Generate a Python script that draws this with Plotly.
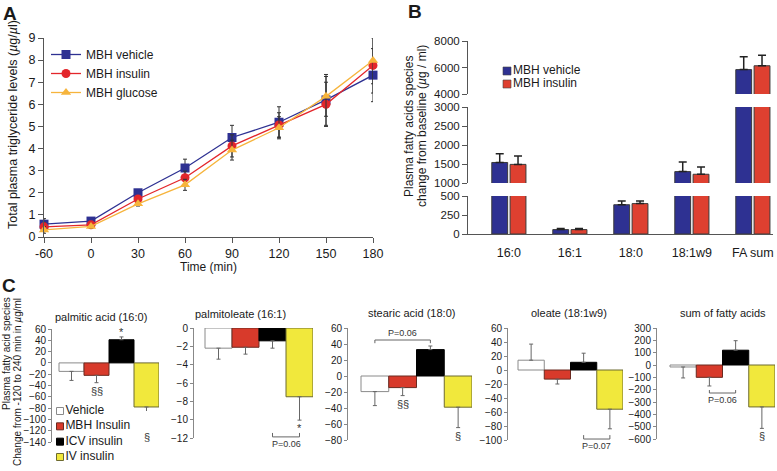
import plotly.graph_objects as go

W, H = 777, 471
FONT = "Liberation Sans, Arial, Helvetica, sans-serif"
TXT = "#1a1a1a"
AXC = "#555555"

# ---------------- Panel A data ----------------
time_labels = ["-60", "0", "30", "60", "90", "120", "150", "180"]
a_names = ["MBH vehicle", "MBH insulin", "MBH glucose"]
a_vehicle = [0.58, 0.72, 2.00, 3.12, 4.50, 5.19, 6.20, 7.32]
a_vehicle_err = [0.25, 0.10, 0.15, 0.40, 0.55, 0.70, 1.15, 1.20]
a_insulin = [0.46, 0.55, 1.72, 2.68, 4.12, 5.07, 6.00, 7.76]
a_insulin_err = [0.20, 0.10, 0.15, 0.30, 0.50, 0.55, 1.00, 1.25]
a_glucose = [0.32, 0.48, 1.50, 2.36, 3.93, 4.94, 6.36, 7.98]
a_glucose_err = [0.15, 0.08, 0.10, 0.25, 0.45, 0.50, 0.90, 1.05]

# ---------------- Panel B data ----------------
b_species = ["16:0", "16:1", "18:0", "18:1w9", "FA sum"]
b_names = ["MBH vehicle", "MBH insulin"]
b_vehicle = [1540, 58, 385, 1300, 5840]
b_vehicle_err = [230, 13, 50, 250, 975]
b_insulin = [1490, 58, 400, 1230, 6130]
b_insulin_err = [220, 13, 35, 190, 800]
b_seg_ticks = [[0, 250, 500], [1000, 1500, 2000, 2500, 3000], [4000, 6000, 8000]]

# ---------------- Panel C data ----------------
c_groups = ["Vehicle", "MBH Insulin", "ICV insulin", "IV insulin"]
c_titles = ["palmitic acid (16:0)", "palmitoleate (16:1)", "stearic acid (18:0)",
            "oleate (18:1w9)", "sum of fatty acids"]
c_palmitic = [-15, -22, 41, -78]
c_palmitic_err = [16, 13, 5, 39]
c_palmitoleate = [-2.2, -2.1, -1.4, -7.5]
c_palmitoleate_err = [1.2, 0.75, 0.8, 2.55]
c_stearic = [-19.5, -14.5, 33, -39]
c_stearic_err = [17.5, 10, 4.5, 25.5]
c_oleate = [14, -13, 11, -56]
c_oleate_err = [23, 7, 13, 28]
c_sum = [-16, -100, 120, -340]
c_sum_err = [89, 70, 77, 174]
c_yranges = [[-140, 60], [-12, 0], [-80, 60], [-100, 60], [-600, 300]]
c_dticks = [20, 2, 20, 20, 100]
# significance marks: (subplot, group index, symbol)
c_marks = [(0, 2, "*"), (0, 1, "§§"), (0, 3, "§"), (1, 3, "*"),
           (2, 1, "§§"), (2, 3, "§"), (4, 3, "§")]
# P-value brackets: (subplot, from group, to group, text, bracket level, tick end)
c_brackets = [(1, 2, 3, "P=0.06", -11.88, -11.45),
              (2, 0, 2, "P=0.06", 45, 41),
              (3, 2, 3, "P=0.07", -98.6, -93),
              (4, 1, 2, "P=0.06", -227, -203)]

c_values = [c_palmitic, c_palmitoleate, c_stearic, c_oleate, c_sum]
c_errors = [c_palmitic_err, c_palmitoleate_err, c_stearic_err, c_oleate_err, c_sum_err]


def xd(l, r):
    return [l / W, r / W]


def yd(top, bottom):
    return [1 - bottom / H, 1 - top / H]


fig = go.Figure()
layout = {}

# ================= Panel A =================
A_COLORS = ["#2E3192", "#E3262B", "#F6B43C"]
A_SYMBOLS = ["square", "circle", "triangle-up"]
xs = list(range(len(time_labels)))
for name, ys, es, col, sym in zip(a_names, [a_vehicle, a_insulin, a_glucose],
                                  [a_vehicle_err, a_insulin_err, a_glucose_err],
                                  A_COLORS, A_SYMBOLS):
    fig.add_trace(go.Scatter(
        x=xs, y=ys, name=name, mode="lines+markers",
        line=dict(color=col, width=1.3),
        marker=dict(symbol=sym, size=9, color=col),
        error_y=dict(type="data", array=es, color="#333333", thickness=1, width=2),
        cliponaxis=False, xaxis="x", yaxis="y", legend="legend"))

layout["xaxis"] = dict(domain=xd(44, 373), range=[0, 7], tickvals=xs, ticktext=time_labels,
                       anchor="y", showline=True, linecolor=AXC, ticks="outside", ticklen=5,
                       tickcolor=AXC, showgrid=False, zeroline=False, automargin=False,
                       tickfont=dict(size=12.5, family=FONT, color=TXT))
layout["yaxis"] = dict(domain=yd(38, 237), range=[0, 9], dtick=1, anchor="x",
                       showline=True, linecolor=AXC, ticks="outside", ticklen=5,
                       tickcolor=AXC, showgrid=False, zeroline=False, automargin=False,
                       tickfont=dict(size=12.5, family=FONT, color=TXT))

# ================= Panel B =================
B_COLORS = ["#2E3192", "#DE4030"]
b_x = list(range(len(b_species)))
seg_axes = ["y2", "y3", "y4"]
for seg_i, ya in enumerate(seg_axes):
    for gi, (name, vals, errs, col) in enumerate(zip(b_names, [b_vehicle, b_insulin],
                                                    [b_vehicle_err, b_insulin_err], B_COLORS)):
        fig.add_trace(go.Bar(
            x=b_x, y=vals, name=name, width=0.26, offset=-0.28 if gi == 0 else 0.02,
            marker=dict(color=col, line=dict(color="#3a3a3a", width=1)),
            error_y=dict(type="data", symmetric=False, array=errs, arrayminus=[0] * len(errs),
                         color="#222222", thickness=1.5, width=4),
            showlegend=False, xaxis="x2", yaxis=ya))

layout["xaxis2"] = dict(domain=xd(468, 773), range=[-0.67, 4.33], tickvals=b_x, ticktext=b_species,
                        anchor="y2", showline=True, linecolor=AXC, ticks="outside", ticklen=7,
                        tickcolor="rgba(0,0,0,0)", showgrid=False, zeroline=False, automargin=False,
                        tickfont=dict(size=12.5, family=FONT, color=TXT))
b_domains = [yd(196, 234), yd(107, 183), yd(41, 94)]
b_ranges = [[0, 500], [1000, 3000], [4000, 8000]]
for i, ya in enumerate(["yaxis2", "yaxis3", "yaxis4"]):
    layout[ya] = dict(domain=b_domains[i], range=b_ranges[i], tickvals=b_seg_ticks[i],
                      anchor="x2", showline=True, linecolor=AXC, ticks="outside", ticklen=5,
                      tickcolor=AXC, showgrid=False, zeroline=False, automargin=False,
                      tickfont=dict(size=11.5, family=FONT, color=TXT))

# legend of panel B (helper axis)
fig.add_trace(go.Scatter(
    x=[0] * len(b_names), y=list(range(len(b_names))), mode="markers+text",
    text=b_names, textposition="middle right",
    textfont=dict(size=12, family=FONT, color=TXT),
    marker=dict(symbol="square", size=8, color=B_COLORS, line=dict(color="#444", width=0.6)),
    cliponaxis=False, showlegend=False, hoverinfo="skip", xaxis="x10", yaxis="y10"))
layout["xaxis10"] = dict(domain=xd(507, 640), range=[0, 1], visible=False, anchor="y10")
layout["yaxis10"] = dict(domain=yd(71, 84), range=[1, 0], visible=False, anchor="x10")

# ================= Panel C =================
C_COLORS = ["#FFFFFF", "#D83A2B", "#000000", "#F1E83C"]
C_LINES = ["#8a8a8a", "#6a2a20", "#000000", "#6d6a30"]
# (axis px, first bar left px, right px, top px, bottom px)
c_geom = [(52, 59, 159, 329, 442), (194, 205, 313, 328, 438), (348, 361, 472, 328, 440),
          (508, 518, 623, 328, 440), (657, 670, 775, 328, 439)]
c_title_y = [317, 314, 313, 313, 313]
c_title_x = [101, 240, 411, 569, 723]

for s in range(5):
    xa = "x%d" % (s + 5)
    ya = "y%d" % (s + 5)
    for g in range(4):
        v = c_values[s][g]
        e = c_errors[s][g]
        fig.add_trace(go.Bar(
            x=[g], y=[v], width=1, name=c_groups[g],
            marker=dict(color=C_COLORS[g], line=dict(color=C_LINES[g], width=1)),
            error_y=dict(type="data", symmetric=False,
                         array=[e if v > 0 else 0], arrayminus=[e if v < 0 else 0],
                         color="#666666", thickness=1, width=2),
            showlegend=False, xaxis=xa, yaxis=ya))
    ax_l, b_l, r, top, bot = c_geom[s]
    bw = (r - b_l) / 4.0
    layout["xaxis%d" % (s + 5)] = dict(domain=xd(ax_l, r), range=[-0.5 - (b_l - ax_l) / bw, 3.5],
                                       visible=False, anchor=ya)
    layout["yaxis%d" % (s + 5)] = dict(domain=yd(top, bot), range=c_yranges[s], dtick=c_dticks[s],
                                       anchor=xa, showline=True, linecolor="#888888",
                                       ticks="outside", ticklen=3, tickcolor="#888888",
                                       showgrid=False, zeroline=False, automargin=False,
                                       tickfont=dict(size=10, family=FONT, color=TXT))

# legend of panel C (helper axis)
fig.add_trace(go.Scatter(
    x=[0] * len(c_groups), y=list(range(len(c_groups))), mode="markers+text",
    text=c_groups, textposition="middle right",
    textfont=dict(size=12, family=FONT, color=TXT),
    marker=dict(symbol="square", size=7, color=C_COLORS, line=dict(color=C_LINES, width=1)),
    cliponaxis=False, showlegend=False, hoverinfo="skip", xaxis="x11", yaxis="y11"))
layout["xaxis11"] = dict(domain=xd(60, 170), range=[0, 1], visible=False, anchor="y11")
layout["yaxis11"] = dict(domain=yd(411, 457), range=[3, 0], visible=False, anchor="x11")

annotations = []


def pann(text, x, y, size, **kw):
    d = dict(text=text, x=x / W, y=1 - y / H, xref="paper", yref="paper", showarrow=False,
             xanchor="center", yanchor="middle",
             font=dict(size=size, family=FONT, color=TXT))
    d.update(kw)
    return d


# panel letters
annotations.append(pann("<b>A</b>", 10, 14, 19))
annotations.append(pann("<b>B</b>", 415, 12, 19))
annotations.append(pann("<b>C</b>", 9, 285, 19))
# panel A titles
annotations.append(pann("Total plasma triglyceride levels (<i>µ</i>g/<i>µ</i>l)", 13, 125, 12.5, textangle=-90))
annotations.append(pann("Time (min)", 208, 267, 12))
# panel B y title
annotations.append(pann("Plasma fatty acids species", 409, 127, 12, textangle=-90))
annotations.append(pann("change from baseline (<i>µ</i>g / ml)", 422, 126, 12, textangle=-90))
# panel C y title
annotations.append(pann("Plasma fatty acid species", 6, 354, 10, textangle=-90))
annotations.append(pann("Change from -120 to 240 min in <i>µ</i>g/ml", 17, 382, 10, textangle=-90))
# panel C subplot titles
for s in range(5):
    annotations.append(pann(c_titles[s], c_title_x[s], c_title_y[s], 11))

# significance marks (data-referenced)
for s, g, sym in c_marks:
    v = c_values[s][g]
    e = c_errors[s][g]
    end = v + e if v > 0 else v - e
    annotations.append(dict(text=sym, x=g, y=end, xref="x%d" % (s + 5), yref="y%d" % (s + 5),
                            showarrow=False, xanchor="center", yanchor="bottom" if v > 0 else "top",
                            yshift=-3 if v > 0 else 0,
                            font=dict(size=11, family=FONT, color="#333")))

# brackets
shapes = []
for s, g0, g1, txt, yb, yt in c_brackets:
    shapes.append(dict(type="path", xref="x%d" % (s + 5), yref="y%d" % (s + 5),
                       path="M %g,%g L %g,%g L %g,%g L %g,%g" % (g0, yt, g0, yb, g1, yb, g1, yt),
                       line=dict(color="#666666", width=1)))
    above = yt < yb
    annotations.append(dict(text=txt, x=(g0 + g1) / 2.0, y=yb, xref="x%d" % (s + 5), yref="y%d" % (s + 5),
                            showarrow=False, xanchor="center", yanchor="bottom" if above else "top",
                            font=dict(size=9, family=FONT, color="#333")))

layout.update(dict(
    width=W, height=H, autosize=False,
    margin=dict(l=0, r=0, t=0, b=0, pad=0, autoexpand=False),
    paper_bgcolor="white", plot_bgcolor="white",
    barmode="overlay",
    font=dict(family=FONT, color=TXT),
    annotations=annotations, shapes=shapes,
    legend=dict(x=46 / W, y=1 - 40 / H, xanchor="left", yanchor="top",
                bgcolor="rgba(0,0,0,0)", font=dict(size=12, family=FONT, color=TXT),
                itemwidth=30, tracegroupgap=0),
))
fig.update_layout(**layout)
fig.write_html("out.html", config={"displayModeBar": False, "staticPlot": True},
               post_script="document.body.style.margin='0';document.body.style.padding='0';"
                           "document.body.style.overflow='hidden';")
